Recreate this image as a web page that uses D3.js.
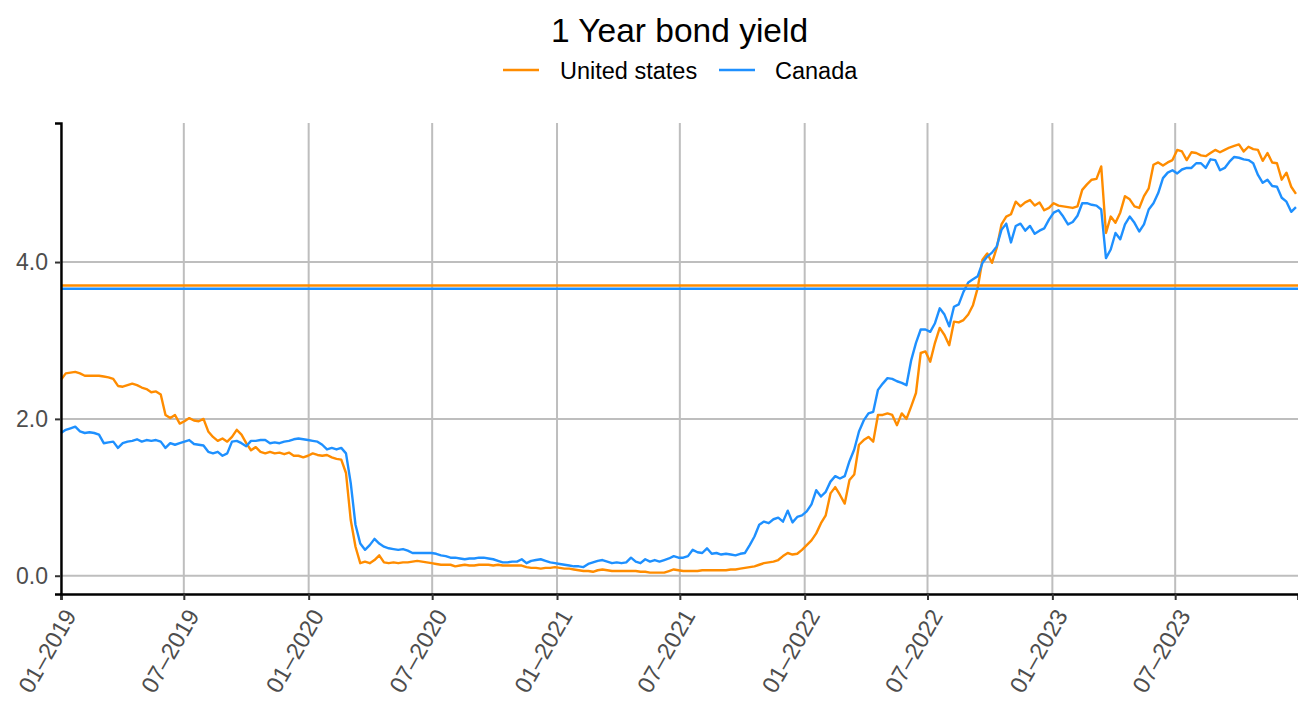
<!DOCTYPE html>
<html>
<head>
<meta charset="utf-8">
<script src="https://cdn.jsdelivr.net/npm/d3@7"></script>
<style>
  html, body { margin: 0; padding: 0; background: #ffffff; }
  svg { display: block; font-family: "Liberation Sans", Arial, Helvetica, sans-serif; }
</style>
</head>
<body>
<script>
// ---- Data (weekly readings starting 2019-01-01) ----
const startDate = "2019-01-01";
const stepDays = 7;
const seriesNames = ["United states", "Canada"];
const seriesColors = ["#FF8C00", "#1E90FF"];

const usYield = [
  2.50,2.58,2.59,2.60,2.58,2.55,2.55,2.55,2.55,2.54,
  2.53,2.51,2.42,2.41,2.43,2.45,2.43,2.40,2.38,2.34,
  2.35,2.31,2.05,2.01,2.05,1.94,1.97,2.01,1.98,1.97,
  2.00,1.84,1.77,1.72,1.75,1.71,1.77,1.86,1.80,1.69,
  1.60,1.64,1.58,1.56,1.58,1.56,1.57,1.55,1.57,1.53,
  1.53,1.51,1.53,1.56,1.54,1.53,1.54,1.51,1.49,1.48,
  1.31,0.71,0.37,0.16,0.18,0.16,0.20,0.26,0.17,0.16,
  0.17,0.16,0.17,0.17,0.18,0.19,0.18,0.17,0.16,0.15,
  0.14,0.14,0.14,
  0.12,0.13,0.14,0.13,0.13,0.14,0.14,0.14,0.13,0.14,
  0.13,0.13,0.13,0.13,0.13,0.11,0.10,0.10,0.09,0.10,
  0.10,0.11,0.10,0.09,0.09,0.08,0.07,0.06,0.06,0.05,
  0.07,0.08,0.07,0.06,0.06,0.06,0.06,0.06,0.06,0.05,
  0.05,0.04,0.04,0.04,0.04,0.06,0.08,0.07,0.06,0.06,
  0.06,0.06,0.07,0.07,0.07,0.07,0.07,0.07,0.08,0.08,
  0.09,0.10,0.11,0.12,0.14,0.16,0.17,0.18,0.20,0.25,
  0.29,0.27,0.28,0.33,0.39,0.45,0.54,0.67,0.77,1.05,
  1.13,1.03,0.92,1.22,1.29,1.67,1.73,1.77,1.71,2.05,
  2.05,2.07,2.05,1.92,2.07,2.00,2.16,2.33,2.84,2.86,
  2.73,2.97,3.16,3.07,2.94,3.24,3.23,3.26,3.33,3.45,
  3.67,4.03,4.11,3.99,4.18,4.48,4.58,4.61,4.77,4.71,
  4.76,4.79,4.72,4.76,4.66,4.69,4.75,4.72,4.71,4.70,
  4.69,4.71,4.92,4.99,5.05,5.06,5.22,4.37,4.58,4.50,
  4.63,4.84,4.80,4.71,4.69,4.84,4.94,5.24,5.27,5.23,
  5.27,5.30,5.43,5.41,5.30,5.40,5.39,5.36,5.35,5.39,
  5.43,5.40,5.43,5.46,5.48,5.50,5.41,5.47,5.44,5.43,
  5.29,5.39,5.27,5.26,5.05,5.14,4.96,4.87
];

const caYield = [
  1.82,1.86,1.88,1.90,1.84,1.82,1.83,1.82,1.80,1.69,
  1.70,1.71,1.63,1.69,1.71,1.72,1.74,1.71,1.73,1.72,
  1.73,1.71,1.63,1.69,1.67,1.69,1.71,1.73,1.68,1.67,
  1.66,1.58,1.56,1.58,1.53,1.56,1.71,1.72,1.69,1.65,
  1.72,1.72,1.73,1.73,1.69,1.70,1.69,1.71,1.72,1.74,
  1.75,1.74,1.73,1.72,1.71,1.67,1.61,1.63,1.61,1.63,
  1.56,1.18,0.65,0.41,0.33,0.39,0.47,0.41,0.37,0.35,
  0.34,0.33,0.34,0.32,0.29,0.29,0.29,0.29,0.29,0.28,
  0.26,0.25,0.23,
  0.23,0.22,0.21,0.22,0.22,0.23,0.23,0.22,0.21,0.19,
  0.17,0.17,0.18,0.18,0.21,0.16,0.19,0.20,0.21,0.19,
  0.17,0.16,0.15,0.14,0.13,0.12,0.12,0.11,0.15,0.17,
  0.19,0.20,0.18,0.16,0.17,0.16,0.17,0.23,0.18,0.16,
  0.21,0.18,0.20,0.18,0.20,0.22,0.25,0.23,0.23,0.25,
  0.33,0.30,0.29,0.35,0.28,0.29,0.27,0.28,0.27,0.26,
  0.28,0.29,0.39,0.50,0.65,0.69,0.67,0.72,0.74,0.69,
  0.83,0.68,0.75,0.77,0.82,0.91,1.09,1.01,1.07,1.20,
  1.27,1.24,1.27,1.46,1.61,1.84,1.98,2.07,2.09,2.37,
  2.45,2.52,2.51,2.48,2.46,2.43,2.75,2.97,3.14,3.14,
  3.11,3.22,3.41,3.33,3.18,3.43,3.46,3.62,3.74,3.78,
  3.82,3.99,4.07,4.12,4.20,4.41,4.49,4.25,4.46,4.49,
  4.40,4.46,4.36,4.40,4.43,4.54,4.63,4.66,4.58,4.48,
  4.51,4.59,4.75,4.75,4.73,4.72,4.67,4.05,4.16,4.37,
  4.29,4.48,4.58,4.50,4.39,4.48,4.67,4.75,4.88,5.07,
  5.14,5.17,5.13,5.18,5.20,5.20,5.26,5.26,5.20,5.31,
  5.30,5.17,5.20,5.28,5.34,5.33,5.31,5.30,5.26,5.11,
  5.01,5.05,4.97,4.96,4.82,4.77,4.64,4.70
];

// Horizontal reference lines
const refLines = [3.70, 3.66];

const yTickValues = [0, 2, 4];
const xDomainEnd = "2023-12-29";

// ---- Build ----
const W = 1298, H = 708;
const pLeft = 61, pRight = 1298, pTop = 123, pBottom = 594;
const parse = d3.timeParse("%Y-%m-%d");
const t0 = parse(startDate);
const dates = usYield.map((_, i) => d3.timeDay.offset(t0, i * stepDays));
const series = [usYield, caYield];

const allVals = usYield.concat(caYield);
const [mn, mx] = d3.extent(allVals);
const pad = (mx - mn) * 0.05;

const x = d3.scaleTime().domain([t0, parse(xDomainEnd)]).range([pLeft, pRight]);
const y = d3.scaleLinear().domain([mn - pad, mx + pad]).range([pBottom, pTop]);

const svg = d3.select("body").append("svg").attr("width", W).attr("height", H);
svg.append("rect").attr("width", W).attr("height", H).attr("fill", "#fff");

const font = '"Liberation Sans", Arial, Helvetica, sans-serif';
const gridCol = "#bebebe";

const xTicks = d3.timeMonth.every(6).range(t0, parse(xDomainEnd));

// grid
const grid = svg.append("g");
grid.selectAll(".gx").data(xTicks).join("line")
  .attr("x1", d => x(d)).attr("x2", d => x(d))
  .attr("y1", pTop).attr("y2", pBottom)
  .attr("stroke", gridCol).attr("stroke-width", 2);
grid.selectAll(".gy").data(yTickValues).join("line")
  .attr("x1", pLeft).attr("x2", pRight)
  .attr("y1", d => y(d)).attr("y2", d => y(d))
  .attr("stroke", gridCol).attr("stroke-width", 2);

// series lines
const line = d3.line().x((d, i) => x(dates[i])).y(d => y(d));
series.forEach((s, i) => {
  svg.append("path").datum(s)
    .attr("d", line)
    .attr("fill", "none")
    .attr("stroke", seriesColors[i])
    .attr("stroke-width", 2.4)
    .attr("stroke-linejoin", "round");
});

// reference lines
refLines.forEach((v, i) => {
  svg.append("line")
    .attr("x1", pLeft).attr("x2", pRight)
    .attr("y1", y(v)).attr("y2", y(v))
    .attr("stroke", seriesColors[i]).attr("stroke-width", 2.4);
});

// axes
const xAxis = d3.axisBottom(x).tickValues(xTicks).tickSize(6)
  .tickFormat(d3.timeFormat("%m–%Y"));
const gx = svg.append("g").attr("transform", `translate(0,${pBottom})`).call(xAxis);
gx.select(".domain").attr("stroke", "#000").attr("stroke-width", 2.4);
gx.selectAll(".tick line").attr("stroke", "#333").attr("stroke-width", 2);
gx.selectAll(".tick text")
  .attr("x", 0).attr("y", 0).attr("dy", "0.72em")
  .attr("transform", "translate(1,13) rotate(-60)")
  .attr("text-anchor", "end")
  .attr("fill", "#4d4d4d")
  .style("font-family", font).style("font-size", "23.5px");

const yAxis = d3.axisLeft(y).tickValues(yTickValues).tickSize(6).tickPadding(7)
  .tickFormat(d3.format(".1f"));
const gy = svg.append("g").attr("transform", `translate(${pLeft},0)`).call(yAxis);
gy.select(".domain").attr("stroke", "#000").attr("stroke-width", 2.4);
gy.selectAll(".tick line").attr("stroke", "#333").attr("stroke-width", 2);
gy.selectAll(".tick text")
  .attr("fill", "#4d4d4d")
  .style("font-family", font).style("font-size", "23px");

// title
svg.append("text")
  .attr("x", (pLeft + pRight) / 2).attr("y", 42)
  .attr("text-anchor", "middle")
  .style("font-family", font).style("font-size", "33.5px")
  .attr("fill", "#000")
  .text("1 Year bond yield");

// legend
const legendItems = [
  { name: seriesNames[0], color: seriesColors[0], kx: 503, tx: 560 },
  { name: seriesNames[1], color: seriesColors[1], kx: 719, tx: 775 }
];
const lg = svg.append("g");
legendItems.forEach(it => {
  lg.append("line").attr("x1", it.kx).attr("x2", it.kx + 36)
    .attr("y1", 70).attr("y2", 70)
    .attr("stroke", it.color).attr("stroke-width", 2.5);
  lg.append("text").attr("x", it.tx).attr("y", 79)
    .style("font-family", font).style("font-size", "23.5px")
    .attr("fill", "#000")
    .text(it.name);
});
</script>
</body>
</html>
